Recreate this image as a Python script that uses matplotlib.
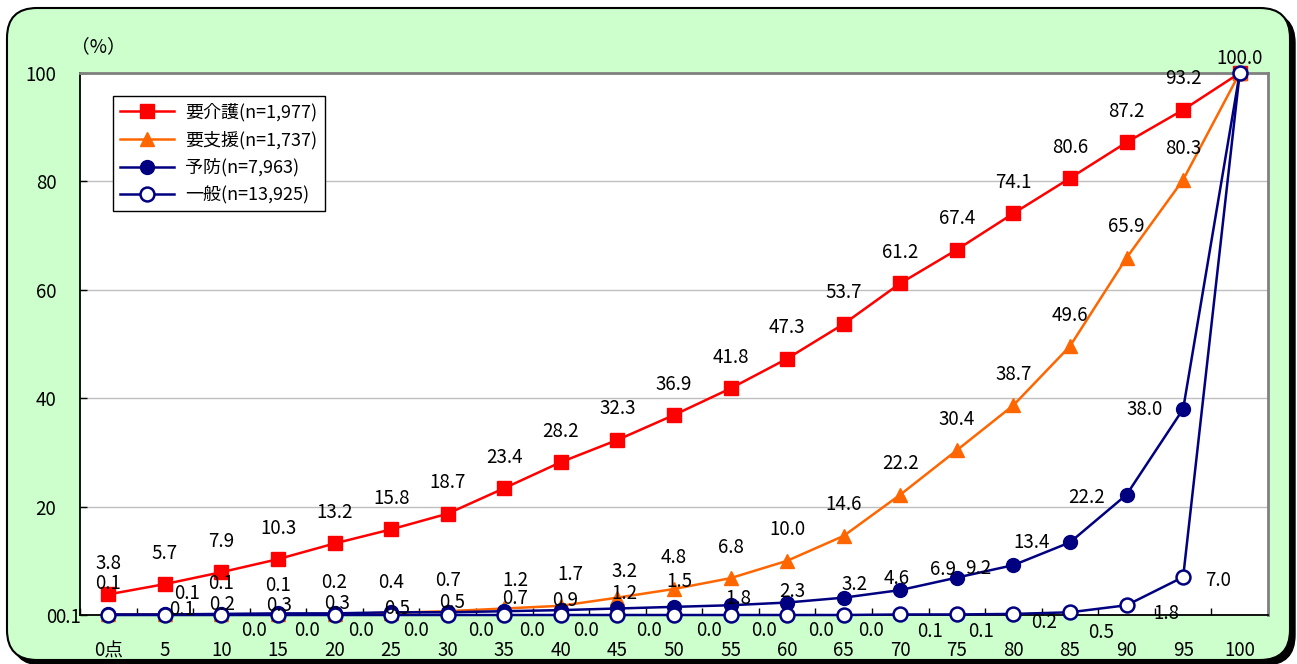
import matplotlib
matplotlib.use("Agg")
import matplotlib.pyplot as plt
from matplotlib.patches import FancyBboxPatch

plt.rcParams['font.family'] = ['Noto Sans CJK JP', 'DejaVu Sans']

# data
categories = ["0点", "5", "10", "15", "20", "25", "30", "35", "40", "45", "50",
              "55", "60", "65", "70", "75", "80", "85", "90", "95", "100"]
kaigo = [3.8, 5.7, 7.9, 10.3, 13.2, 15.8, 18.7, 23.4, 28.2, 32.3, 36.9,
         41.8, 47.3, 53.7, 61.2, 67.4, 74.1, 80.6, 87.2, 93.2, 100.0]
shien = [0.1, 0.1, 0.1, 0.1, 0.2, 0.4, 0.7, 1.2, 1.7, 3.2, 4.8,
         6.8, 10.0, 14.6, 22.2, 30.4, 38.7, 49.6, 65.9, 80.3, 100.0]
yobou = [0.1, 0.1, 0.2, 0.3, 0.3, 0.5, 0.5, 0.7, 0.9, 1.2, 1.5,
         1.8, 2.3, 3.2, 4.6, 6.9, 9.2, 13.4, 22.2, 38.0, 100.0]
ippan = [0.0, 0.0, 0.0, 0.0, 0.0, 0.0, 0.0, 0.0, 0.0, 0.0, 0.0,
         0.0, 0.0, 0.0, 0.1, 0.1, 0.2, 0.5, 1.8, 7.0, 100.0]
names = ["要介護(n=1,977)", "要支援(n=1,737)", "予防(n=7,963)", "一般(n=13,925)"]

# label offsets in screen pixels (dx, dy; dy positive = down), None = no label
off_kaigo = [(0, -31)] * 20 + [(0, -15)]
off_shien = [(0, -31), (22, -21), (0, -31), (0, -29), (0, -31), (0, -30), (0, -31),
             (11, -28), (10, -31), (7, -26)] + [(0, -31)] * 10 + [None]
off_yobou = [(-40, 3), (17, -5), (1, -9), (1, -8), (2, -10), (6, -4), (4, -10),
             (11, -13), (4, -10), (7, -15), (5, -25), (8, -7), (5, -11), (11, -13),
             (-4, -12), (-14, -8), (-35, 3), (-38, 0), (-40, 3), (-39, 0), None]
off_ippan = [None, None, (33, 15), (29, 15), (26, 15), (25, 15), (33, 15), (28, 15),
             (25, 15), (32, 15), (35, 15), (33, 15), (34, 15), (27, 15), (30, 17),
             (24, 17), (31, 9), (31, 20), (40, 8), (35, 3), None]

fig = plt.figure(figsize=(12.97, 6.64), dpi=100)
fig.patch.set_facecolor('white')

# rounded green panel with shadow
shadow = FancyBboxPatch((0.12, -0.01), 12.83, 6.52, boxstyle="round,pad=0,rounding_size=0.3",
                        transform=fig.dpi_scale_trans, facecolor='black', edgecolor='black',
                        zorder=-2)
panel = FancyBboxPatch((0.07, 0.04), 12.83, 6.52, boxstyle="round,pad=0,rounding_size=0.3",
                       transform=fig.dpi_scale_trans, facecolor='#CCFFCC', edgecolor='black',
                       linewidth=1.5, zorder=-1)
fig.add_artist(shadow)
fig.add_artist(panel)

ax = fig.add_axes([80 / 1297, 1 - 615 / 664, 1188 / 1297, 542 / 664])
ax.set_facecolor('white')

x = list(range(len(categories)))
ax.plot(x, kaigo, '-s', color='#FF0000', lw=1.8, ms=10, label=names[0], clip_on=False, zorder=3)
ax.plot(x, shien, '-^', color='#FF6600', lw=1.8, ms=10, label=names[1], clip_on=False, zorder=4)
ax.plot(x, yobou, '-o', color='#000080', lw=1.8, ms=10, label=names[2], clip_on=False, zorder=5)
ax.plot(x, ippan, '-o', color='#000080', mfc='white', mec='#000080', mew=1.8, lw=1.8, ms=10,
        label=names[3], clip_on=False, zorder=6)

for vals, offs in [(kaigo, off_kaigo), (shien, off_shien), (yobou, off_yobou), (ippan, off_ippan)]:
    for i, v in enumerate(vals):
        if offs[i] is None:
            continue
        dx, dy = offs[i]
        ax.annotate("{:.1f}".format(v), (i, v), xytext=(dx, -dy), textcoords='offset pixels',
                    ha='center', va='center', fontsize=13.5, zorder=10)

ax.set_xlim(-0.5, 20.5)
ax.set_ylim(0, 100)
ax.set_yticks([0, 20, 40, 60, 80, 100])
ax.set_yticklabels(["0", "20", "40", "60", "80", "100"])
ax.set_xticks(x)
ax.set_xticklabels(categories)
ax.set_xticks([i - 0.5 for i in range(22)], minor=True)
ax.tick_params(axis='x', which='major', length=0, pad=18, labelsize=13.5)
ax.tick_params(axis='x', which='minor', direction='in', length=5, width=1)
ax.tick_params(axis='y', direction='in', length=5, width=1, pad=17, labelsize=13.5)
ax.grid(axis='y', color='#BFBFBF', lw=1)
ax.set_axisbelow(True)

for s in ['left', 'bottom']:
    ax.spines[s].set_color('black')
    ax.spines[s].set_linewidth(1.3)
for s in ['top', 'right']:
    ax.spines[s].set_color('#808080')
    ax.spines[s].set_linewidth(2)

fig.text(98 / 1297, 1 - 47 / 664, "（%）", ha='center', va='center', fontsize=13.5)

leg = ax.legend(loc='upper left', bbox_to_anchor=(113 / 1297, 1 - 96 / 664),
                bbox_transform=fig.transFigure, fontsize=13, frameon=True, fancybox=False,
                edgecolor='black', framealpha=1, handlelength=3.0, labelspacing=0.5,
                borderpad=0.4, handletextpad=0.6, borderaxespad=0)
leg.get_frame().set_linewidth(1)

fig.savefig("out.png", dpi=100)
